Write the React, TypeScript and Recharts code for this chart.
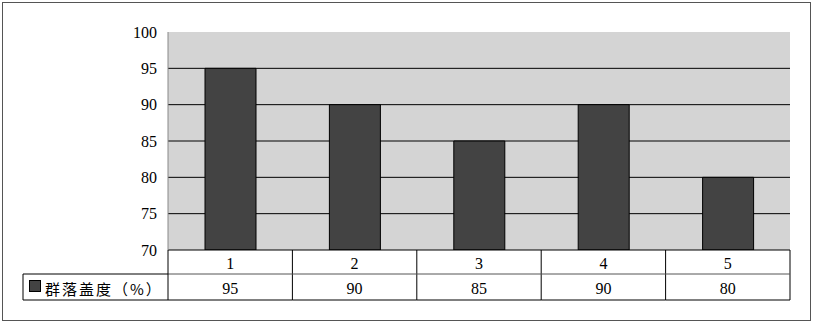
import { BarChart, Bar, XAxis, YAxis, CartesianGrid } from "recharts"

const categories = ["1", "2", "3", "4", "5"]
const coverValues = [95, 90, 85, 90, 80]
const yTicks = [70, 75, 80, 85, 90, 95, 100]
const seriesName = "群落盖度（%）"

const data = categories.map((c, i) => ({ name: c, cover: coverValues[i] }))

const W = 814
const H = 323
const PLOT_LEFT = 168
const PLOT_RIGHT = 790
const PLOT_TOP = 32
const PLOT_BOTTOM = 250
const ROW1 = 274
const ROW2 = 300
const LEGEND_LEFT = 23
const CAT_W = (PLOT_RIGHT - PLOT_LEFT) / categories.length
const Y_MIN = yTicks[0]
const Y_MAX = yTicks[yTicks.length - 1]

const serif = "'Liberation Serif', 'Times New Roman', serif"

// gridlines only between the ends of the axis
const gridYs = yTicks
  .slice(1, -1)
  .map((v) => PLOT_TOP + ((Y_MAX - v) / (Y_MAX - Y_MIN)) * (PLOT_BOTTOM - PLOT_TOP))

function TableTick(props: any) {
  const { x, payload, index } = props
  const l = x - CAT_W / 2
  const r = x + CAT_W / 2
  return (
    <g>
      <text
        x={x}
        y={(PLOT_BOTTOM + ROW1) / 2 + 1}
        textAnchor="middle"
        dominantBaseline="central"
        fontFamily={serif}
        fontSize={16}
        fill="#000"
      >
        {payload.value}
      </text>
      <text
        x={x}
        y={(ROW1 + ROW2) / 2 + 1}
        textAnchor="middle"
        dominantBaseline="central"
        fontFamily={serif}
        fontSize={16}
        fill="#000"
      >
        {coverValues[index]}
      </text>
      <line x1={r} x2={r} y1={PLOT_BOTTOM} y2={ROW2} stroke="#000" />
      <line x1={l} x2={r} y1={ROW1} y2={ROW1} stroke="#555" />
      <line x1={l} x2={r} y1={ROW2} y2={ROW2} stroke="#000" />
      {index === 0 && (
        <g>
          <line x1={l} x2={l} y1={PLOT_BOTTOM} y2={ROW2} stroke="#000" />
          <line x1={LEGEND_LEFT} x2={l} y1={ROW1} y2={ROW1} stroke="#000" />
          <line x1={LEGEND_LEFT} x2={l} y1={ROW2} y2={ROW2} stroke="#000" />
          <line x1={LEGEND_LEFT} x2={LEGEND_LEFT} y1={ROW1} y2={ROW2} stroke="#000" />
          <rect
            x={LEGEND_LEFT + 6.5}
            y={ROW1 + 6.5}
            width={11}
            height={11}
            fill="#434343"
            stroke="#000"
          />
          <text
            x={LEGEND_LEFT + 22}
            y={(ROW1 + ROW2) / 2 + 1}
            dominantBaseline="central"
            fontFamily="'Noto Sans CJK SC', sans-serif"
            fontSize={15}
            letterSpacing={2}
            fill="#000"
          >
            {seriesName}
          </text>
        </g>
      )}
    </g>
  )
}

export default function App() {
  return (
    <div style={{ position: "absolute", left: 0, top: 0, width: W, height: H, background: "#fff" }}>
      <div
        style={{
          position: "absolute",
          left: 2,
          top: 2,
          width: 809,
          height: 319,
          border: "1px solid #555",
          boxSizing: "border-box",
        }}
      />
      <div style={{ position: "absolute", left: 0, top: 0 }}>
        <BarChart
          width={W}
          height={H}
          data={data}
          margin={{ top: PLOT_TOP, right: W - PLOT_RIGHT, bottom: 0, left: 0 }}
          barSize={51}
        >
          <CartesianGrid
            vertical={false}
            fill="#d4d4d4"
            fillOpacity={1}
            stroke="#000"
            horizontalPoints={gridYs}
          />
          <XAxis
            dataKey="name"
            height={H - PLOT_BOTTOM}
            interval={0}
            tickLine={false}
            axisLine={{ stroke: "#000" }}
            tick={<TableTick />}
          />
          <YAxis
            width={PLOT_LEFT}
            domain={[Y_MIN, Y_MAX]}
            ticks={yTicks}
            allowDataOverflow
            tickLine={false}
            tickSize={5}
            tickMargin={6}
            axisLine={{ stroke: "#888" }}
            tick={{ fontFamily: serif, fontSize: 16, fill: "#000" }}
          />
          <Bar
            dataKey="cover"
            fill="#434343"
            stroke="#000"
            strokeWidth={1}
            isAnimationActive={false}
          />
        </BarChart>
      </div>
    </div>
  )
}
